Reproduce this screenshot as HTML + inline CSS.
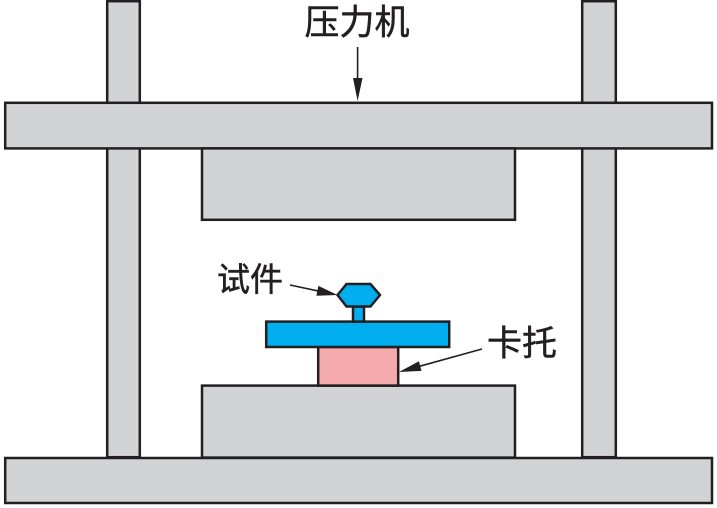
<!DOCTYPE html>
<html>
<head>
<meta charset="utf-8">
<style>
  html, body { margin: 0; padding: 0; background: #ffffff; }
  body { width: 717px; height: 508px; overflow: hidden; }
  svg { display: block; }
  text { font-family: "Liberation Sans", "Noto Sans CJK SC", "WenQuanYi Zen Hei", sans-serif; fill: #231f20; stroke: #231f20; stroke-width: 0.5; }
</style>
</head>
<body>
<svg width="717" height="508" viewBox="0 0 717 508" xmlns="http://www.w3.org/2000/svg">
  <g stroke="#231f20" stroke-width="2.5" fill="#d1d3d4">
    <!-- columns -->
    <rect x="107.2" y="1.2" width="32.6" height="456"/>
    <rect x="582.2" y="1.2" width="33.6" height="456"/>
    <!-- top bar -->
    <rect x="5.2" y="102.8" width="706.8" height="45.6"/>
    <!-- upper platen -->
    <rect x="202" y="148.4" width="313" height="71.4"/>
    <!-- lower platen -->
    <rect x="202" y="385.6" width="313" height="72"/>
    <!-- bottom bar -->
    <rect x="5.2" y="458" width="706.8" height="45"/>
    <!-- pink holder -->
    <rect x="318.2" y="347" width="80" height="38.6" fill="#f5abac"/>
    <!-- blue plate -->
    <rect x="266.2" y="321.6" width="183" height="25.4" fill="#00aeef"/>
    <!-- stem -->
    <rect x="353" y="306.5" width="11" height="15.1" fill="#00aeef"/>
    <!-- hexagon -->
    <polygon points="337.5,295 346.5,284 370.5,284 380,295 370.5,306.5 346.5,306.5" fill="#00aeef"/>
  </g>

  <!-- arrows -->
  <g stroke="#231f20" stroke-width="1.6" fill="none">
    <line x1="357.6" y1="47" x2="357.6" y2="90"/>
    <line x1="290" y1="285" x2="322" y2="291.8"/>
    <line x1="482" y1="349" x2="414" y2="367.8"/>
  </g>
  <g fill="#231f20" stroke="none">
    <polygon points="353,78 362.5,78 357.6,101"/>
    <polygon points="316.4,295.7 318.4,285.9 337.5,295"/>
    <polygon points="421.5,370.9 418.9,361.3 399,372"/>
  </g>

  <!-- labels -->
  <text x="357" y="34.5" font-size="35" text-anchor="middle">压力机</text>
  <text x="250" y="291" font-size="33" text-anchor="middle">试件</text>
  <text x="522" y="355.5" font-size="35" text-anchor="middle">卡托</text>
</svg>
</body>
</html>
